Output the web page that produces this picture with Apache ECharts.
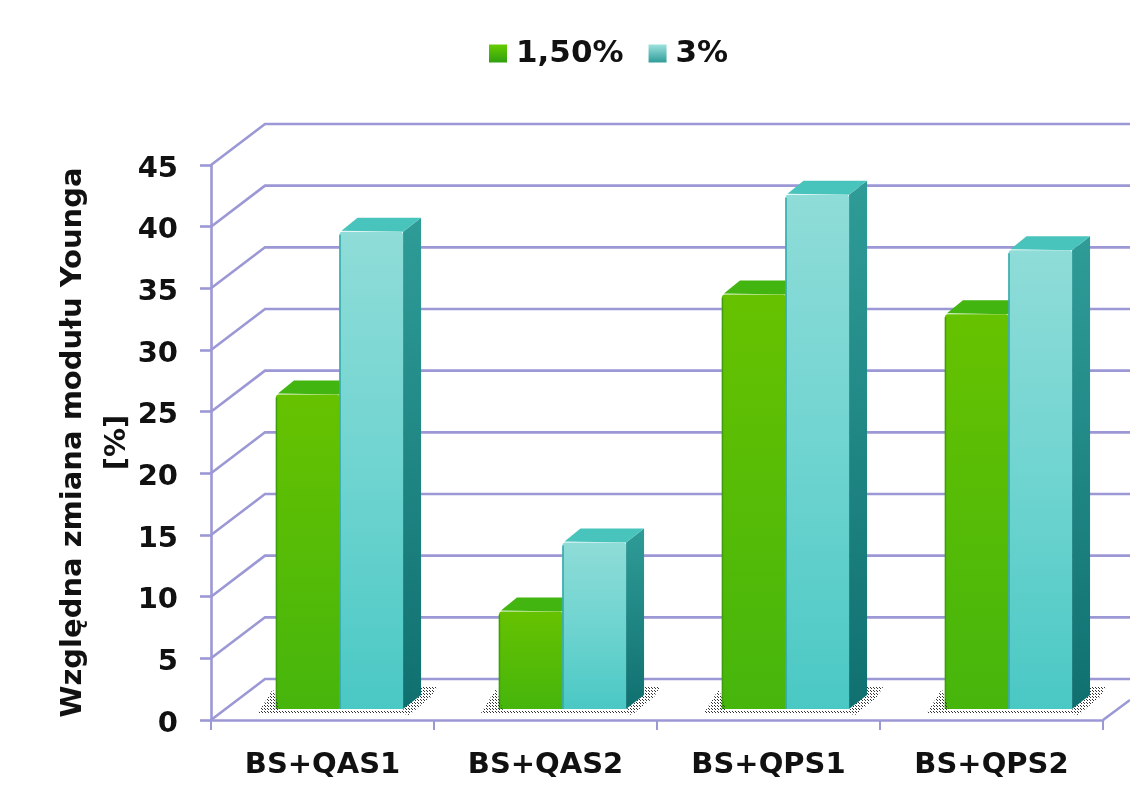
<!DOCTYPE html>
<html lang="pl">
<head>
<meta charset="utf-8">
<title>Względna zmiana modułu Younga</title>
<style>html,body{margin:0;padding:0;background:#fff}#chart{width:1130px;height:789px}</style>
<script src="https://cdn.jsdelivr.net/npm/echarts@6/dist/echarts.min.js"></script>
</head>
<body>
<div id="chart"></div>
<script>
const categories = ['BS+QAS1', 'BS+QAS2', 'BS+QPS1', 'BS+QPS2'];
const series15 = [25.5, 7.9, 33.6, 32.0];
const series30 = [38.7, 13.5, 41.7, 37.2];
const seriesNames = ['1,50%', '3%'];
const valueTicks = [0, 5, 10, 15, 20, 25, 30, 35, 40, 45];

const FONT = '"DejaVu Sans", Verdana, sans-serif';
const WALL = '#9c98d6';
const WALL_DX = 54, WALL_DY = -41;   // oblique offset of the back wall
const FLOOR_DX = 17, FLOOR_DY = -11; // where the bars stand on the floor
const DEPTH_DX = 18, DEPTH_DY = -14; // depth of a bar
const BAR_SHARE = 0.285;

const grad = (stops) => new echarts.graphic.LinearGradient(0, 0, 0, 1,
  stops.map((color, i) => ({ offset: i / (stops.length - 1), color })));

// Dithered floor shadow fill
function dither() {
  const c = document.createElement('canvas');
  c.width = c.height = 3;
  const g = c.getContext('2d');
  g.fillStyle = '#333';
  g.fillRect(0, 0, 1, 1);
  g.fillRect(1, 1, 1, 1);
  return c;
}
const shadowPattern = { image: dither(), repeat: 'repeat' };

const palettes = [
  { front: grad(['#66c200', '#46b50c']), top: '#42b510', side: grad(['#2f9a20', '#1d7a18']), edge: '#3d9e0a', legend: grad(['#66cc00', '#2fa010']) },
  { front: grad(['#8fdcd8', '#6fd4d0', '#4ac8c4']), top: '#48c4bc', side: grad(['#2f9c98', '#107070']), edge: '#2fa6a8', legend: grad(['#9ce2de', '#2f9c98']) }
];

// Back wall: one slanted floor-to-wall stroke and one horizontal for each tick
function renderWall(params, api) {
  const cs = params.coordSys;
  const p = api.coord([0, api.value(0)]);
  const x0 = cs.x, y0 = p[1];
  const style = { stroke: WALL, lineWidth: 2.6, fill: null };
  return {
    type: 'group',
    children: [
      { type: 'polyline', silent: true, shape: { points: [[x0, y0], [x0 + WALL_DX, y0 + WALL_DY], [1130, y0 + WALL_DY]] }, style },
      ...(api.value(0) === 0 ? [{ type: 'line', silent: true, shape: { x1: cs.x + cs.width, y1: y0, x2: 1130, y2: y0 - 20 }, style }] : [])
    ]
  };
}

function barRenderer(index) {
  return function (params, api) {
    const base = api.coord([api.value(0), 0]);
    const head = api.coord([api.value(0), api.value(1)]);
    const w = api.size([1, 0])[0] * BAR_SHARE;
    const xc = base[0] + FLOOR_DX;
    const xl = index === 0 ? xc - w : xc;
    const xr = xl + w;
    const yb = base[1] + FLOOR_DY;
    const yt = head[1] + FLOOR_DY;
    const pal = palettes[index];
    const children = [];
    if (index === 1) {
      // Dithered shadow spreads under both bars of the group
      children.push({
        type: 'polygon', silent: true,
        shape: { points: [[xl - w - 18, yb + 4], [xl - w - 3, yb - 20], [xl - w + 4, yb + 1], [xr, yb + 1], [xr + DEPTH_DX, yb + DEPTH_DY - 8], [xr + 34, yb - 22], [xr + 28, yb - 12], [xr + 6, yb + 6], [xr - 4, yb + 4]] },
        style: { fill: shadowPattern }
      });
    }
    children.push(
      { type: 'polygon', silent: true, shape: { points: [[xr, yb], [xr + DEPTH_DX, yb + DEPTH_DY], [xr + DEPTH_DX, yt + DEPTH_DY], [xr, yt]] }, style: { fill: pal.side } },
      { type: 'polygon', silent: true, shape: { points: [[xl + 2, yt - 1], [xl + DEPTH_DX, yt + DEPTH_DY], [xr + DEPTH_DX, yt + DEPTH_DY], [xr, yt]] }, style: { fill: pal.top } },
      { type: 'rect', silent: true, shape: { x: xl, y: yt, width: w, height: yb - yt, r: [3, 3, 0, 0] }, style: { fill: pal.front } },
      { type: 'line', silent: true, shape: { x1: xl + 0.5, y1: yt + 3, x2: xl + 0.5, y2: yb }, style: { stroke: pal.edge, lineWidth: 1.5 } }
    );
    return { type: 'group', children };
  };
}

const chart = echarts.init(document.getElementById('chart'), null, { renderer: 'canvas' });
chart.setOption({
  animation: false,
  backgroundColor: '#fff',
  legend: {
    data: seriesNames,
    left: 489,
    top: 38,
    padding: 0,
    icon: 'rect',
    itemWidth: 18,
    itemHeight: 18,
    itemGap: 25,
    textStyle: { fontFamily: FONT, fontWeight: 'bold', fontSize: 31, color: '#111', padding: [0, 0, 0, 4] },
    selectedMode: false
  },
  grid: { left: 211, right: 27, top: 165, bottom: 69 },
  xAxis: {
    type: 'category',
    data: categories,
    axisLine: { lineStyle: { color: WALL, width: 2.6 } },
    axisTick: { show: true, length: 10, alignWithLabel: false, lineStyle: { color: WALL, width: 2 } },
    axisLabel: { fontFamily: FONT, fontWeight: 'bold', fontSize: 29, color: '#111', margin: 31 },
    splitLine: { show: false }
  },
  yAxis: {
    type: 'value',
    min: 0,
    max: 45,
    interval: 5,
    name: 'Względna zmiana modułu Younga\n[%]',
    nameLocation: 'middle',
    nameGap: 72,
    nameMoveOverlap: false,
    nameRotate: 90,
    nameTextStyle: { fontFamily: FONT, fontWeight: 'bold', fontSize: 29, color: '#111', lineHeight: 44 },
    axisLine: { show: true, lineStyle: { color: WALL, width: 2.6 } },
    axisTick: { show: true, length: 11, lineStyle: { color: WALL, width: 2.6 } },
    axisLabel: { fontFamily: FONT, fontWeight: 'bold', fontSize: 29, color: '#111', margin: 33, lineHeight: 8, verticalAlign: 'top' },
    splitLine: { show: false }
  },
  series: [
    {
      type: 'custom',
      silent: true,
      z: 1,
      clip: false,
      renderItem: renderWall,
      encode: { y: 0 },
      data: valueTicks.map(v => [v])
    },
    {
      name: seriesNames[0],
      type: 'custom',
      z: 3,
      clip: false,
      renderItem: barRenderer(0),
      itemStyle: { color: palettes[0].legend },
      encode: { x: 0, y: 1 },
      data: series15.map((v, i) => [i, v])
    },
    {
      name: seriesNames[1],
      type: 'custom',
      z: 4,
      clip: false,
      renderItem: barRenderer(1),
      itemStyle: { color: palettes[1].legend },
      encode: { x: 0, y: 1 },
      data: series30.map((v, i) => [i, v])
    }
  ]
});
</script>
</body>
</html>
